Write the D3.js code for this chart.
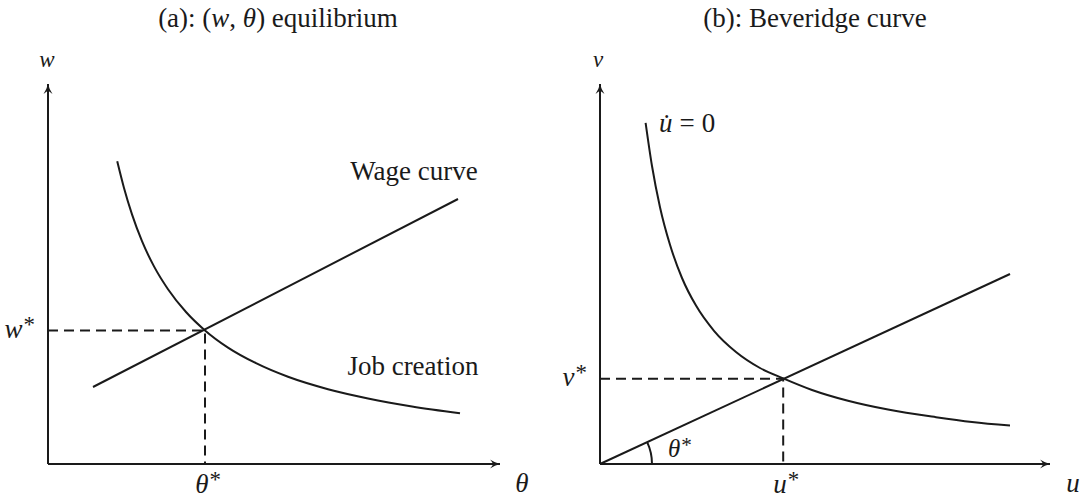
<!DOCTYPE html>
<html>
<head>
<meta charset="utf-8">
<script src="https://cdn.jsdelivr.net/npm/d3@7"></script>
<style>
  html, body { margin: 0; padding: 0; background: #fff; }
  svg { display: block; }
  text { font-family: "Liberation Serif", "DejaVu Serif", serif; fill: #1a1a1a; }
  .math { font-style: italic; }
</style>
</head>
<body>
<svg id="chart" width="1088" height="499"></svg>
<script>
// ---- Panel (a): wage curve and job creation in (theta, w) space ----
const wageTheta = [1.125, 10.25];
const wageW     = [1.925, 6.625];
const jobTheta  = [1.73, 1.9, 2.1, 2.35, 2.65, 3.0, 3.45, 3.925, 4.5, 5.2, 6.0, 7.0, 8.0, 9.1, 10.3];
const jobW      = [7.57, 6.9, 6.24, 5.57, 4.94, 4.37, 3.8, 3.34, 2.91, 2.52, 2.18, 1.87, 1.64, 1.44, 1.27];
const eqA = { theta: 3.925, w: 3.34 };

// ---- Panel (b): Beveridge curve in (u, v) space ----
const rayU = [0, 10.25];
const rayV = [0, 4.75];
const bevU = [1.14, 1.3, 1.5, 1.75, 2.05, 2.4, 2.85, 3.4, 4.0, 4.58, 5.3, 6.2, 7.2, 8.4, 9.3, 10.25];
const bevV = [8.53, 7.45, 6.42, 5.48, 4.65, 3.96, 3.33, 2.8, 2.4, 2.14, 1.85, 1.58, 1.36, 1.17, 1.05, 0.96];
const eqB = { u: 4.58, v: 2.13 };

const titles = ["(a): ", "(b): Beveridge curve"];

const svg = d3.select("#chart");
const ink = "#1a1a1a";
const FS = 27;

// arrowhead used on every axis
svg.append("defs").append("marker")
  .attr("id", "arrow")
  .attr("viewBox", "-12 -6 14 12")
  .attr("refX", 0).attr("refY", 0)
  .attr("markerWidth", 14).attr("markerHeight", 12)
  .attr("markerUnits", "userSpaceOnUse")
  .attr("orient", "auto")
  .append("path")
  .attr("d", "M0,0 Q-5,-1.2 -10,-4.5 Q-7,-1 -7,0 Q-7,1 -10,4.5 Q-5,1.2 0,0 Z")
  .attr("fill", ink);

const pair = (xs, ys) => xs.map((x, i) => [x, ys[i]]);

function drawAxes(g, x, y) {
  const [x0, x1] = x.domain(), [y0, y1] = y.domain();
  g.append("line")
    .attr("x1", x(x0)).attr("y1", y(y0)).attr("x2", x(x1)).attr("y2", y(y0))
    .attr("stroke", ink).attr("stroke-width", 2).attr("marker-end", "url(#arrow)");
  g.append("line")
    .attr("x1", x(x0)).attr("y1", y(y0)).attr("x2", x(x0)).attr("y2", y(y1))
    .attr("stroke", ink).attr("stroke-width", 2).attr("marker-end", "url(#arrow)");
}

function drawGuides(g, x, y, ex, ey) {
  g.append("path")
    .attr("d", `M${x(0)},${y(ey)}H${x(ex)}V${y(0)}`)
    .attr("fill", "none").attr("stroke", ink).attr("stroke-width", 2)
    .attr("stroke-dasharray", "10,6");
}

function drawCurve(g, x, y, pts, curve) {
  const line = d3.line().x(d => x(d[0])).y(d => y(d[1])).curve(curve);
  g.append("path").attr("d", line(pts))
    .attr("fill", "none").attr("stroke", ink).attr("stroke-width", 2)
    .attr("stroke-linejoin", "round");
}

function mathLabel(g, px, py, parts, size, anchor) {
  const t = g.append("text").attr("x", px).attr("y", py)
    .attr("font-size", size).attr("text-anchor", anchor || "middle");
  parts.forEach(p => {
    const s = t.append("tspan").text(p.t);
    if (p.i) s.attr("class", "math");
    if (p.sup) s.attr("font-size", size * 0.85).attr("dy", -size * 0.22).attr("dx", 1);
    if (p.dx) s.attr("dx", p.dx);
  });
  return t;
}

// ================= Panel (a) =================
const xA = d3.scaleLinear().domain([0, 11.3]).range([48, 500]);
const yA = d3.scaleLinear().domain([0, 9.5]).range([464, 84]);
const gA = svg.append("g");

drawGuides(gA, xA, yA, eqA.theta, eqA.w);
drawCurve(gA, xA, yA, pair(wageTheta, wageW), d3.curveLinear);
drawCurve(gA, xA, yA, pair(jobTheta, jobW), d3.curveMonotoneX);
drawAxes(gA, xA, yA);

{
  const t = gA.append("text").attr("x", 278).attr("y", 27)
    .attr("font-size", FS).attr("text-anchor", "middle");
  t.append("tspan").text(titles[0] + "(");
  t.append("tspan").attr("class", "math").text("w");
  t.append("tspan").text(", ");
  t.append("tspan").attr("class", "math").text("θ");
  t.append("tspan").text(") equilibrium");
}
mathLabel(gA, 47, 67, [{ t: "w", i: true }], 23);
mathLabel(gA, 35, 338, [{ t: "w", i: true }, { t: "*", sup: true }], FS, "end");
mathLabel(gA, xA(eqA.theta) + 3, 493, [{ t: "θ", i: true }, { t: "*", sup: true }], FS);
mathLabel(gA, 522, 492, [{ t: "θ", i: true }], FS);
gA.append("text").attr("x", 414).attr("y", 180).attr("font-size", FS)
  .attr("text-anchor", "middle").text("Wage curve");
gA.append("text").attr("x", 413).attr("y", 375).attr("font-size", FS)
  .attr("text-anchor", "middle").text("Job creation");

// ================= Panel (b) =================
const xB = d3.scaleLinear().domain([0, 11.25]).range([600, 1050]);
const yB = d3.scaleLinear().domain([0, 9.5]).range([464, 84]);
const gB = svg.append("g");

drawGuides(gB, xB, yB, eqB.u, eqB.v);
drawCurve(gB, xB, yB, pair(rayU, rayV), d3.curveLinear);
drawCurve(gB, xB, yB, pair(bevU, bevV), d3.curveMonotoneX);
drawAxes(gB, xB, yB);

// angle of the ray through the origin
{
  const ang = Math.atan2(yB(0) - yB(rayV[1]), xB(rayU[1]) - xB(0));
  const arc = d3.arc().innerRadius(52).outerRadius(52)
    .startAngle(Math.PI / 2 - ang).endAngle(Math.PI / 2);
  gB.append("path").attr("d", arc())
    .attr("transform", `translate(${xB(0)},${yB(0)})`)
    .attr("fill", "none").attr("stroke", ink).attr("stroke-width", 2);
}

gB.append("text").attr("x", 815).attr("y", 27).attr("font-size", FS)
  .attr("text-anchor", "middle").text(titles[1]);
mathLabel(gB, 598, 67, [{ t: "v", i: true }], 23);
mathLabel(gB, 587, 386, [{ t: "v", i: true }, { t: "*", sup: true }], FS, "end");
mathLabel(gB, xB(eqB.u) + 3, 493, [{ t: "u", i: true }, { t: "*", sup: true }], FS);
mathLabel(gB, 1073, 492, [{ t: "u", i: true }], FS);
mathLabel(gB, 668, 457, [{ t: "θ", i: true }, { t: "*", sup: true }], 25, "start");
mathLabel(gB, 659, 132, [{ t: "u\u0307", i: true }, { t: "=", dx: 7 }, { t: "0", dx: 7 }], FS, "start");
</script>
</body>
</html>
